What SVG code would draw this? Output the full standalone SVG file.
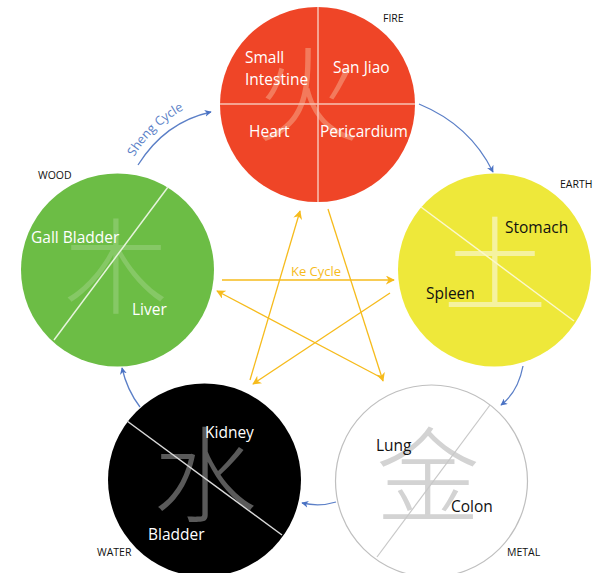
<svg xmlns="http://www.w3.org/2000/svg" width="605" height="573" viewBox="0 0 605 573">
<defs>
<marker id="ab" viewBox="0 0 10 10" refX="9" refY="5" markerWidth="7" markerHeight="7" orient="auto" markerUnits="userSpaceOnUse"><path d="M0,0 L10,5 L0,10 L3,5 Z" fill="#4A72C4"/></marker>
<marker id="ak" viewBox="0 0 10 10" refX="9" refY="5" markerWidth="9" markerHeight="9" orient="auto" markerUnits="userSpaceOnUse"><path d="M0,0 L10,5 L0,10 L3,5 Z" fill="#F6BB1C"/></marker>
<path id="shengPath" d="M134,157 Q156,120 200,102"/>
</defs>
<style>
text{font-family:"Open Sans","Liberation Sans",sans-serif}
.lab{font-size:15.5px}
.w{fill:#ffffff}
.b{fill:#111111}
.el{font-size:10.5px;fill:#111}
.ch{font-family:"Noto Sans CJK SC","Noto Sans CJK JP",sans-serif;font-size:104px;font-weight:300;text-anchor:middle}
.sh{fill:none;stroke:#5B7FC7;stroke-width:1.3}
.ke{fill:none;stroke:#F6BB1C;stroke-width:1.3}
</style>
<rect width="605" height="573" fill="#ffffff"/>
<g id="fire">
<circle cx="317.5" cy="104.5" r="97.5" fill="#EF4527"/>
<text class="ch" x="308" y="134" fill="#F37A5C">火</text>
<line x1="220" y1="104" x2="415" y2="104" stroke="#F7C3B5" stroke-width="1.5"/>
<line x1="318" y1="7" x2="318" y2="202" stroke="#F7C3B5" stroke-width="1.5"/>
<text class="lab w" x="245" y="63">Small</text>
<text class="lab w" x="245" y="85">Intestine</text>
<text class="lab w" x="333" y="73">San Jiao</text>
<text class="lab w" x="249" y="137">Heart</text>
<text class="lab w" x="320" y="137">Pericardium</text>
<text class="el" x="383" y="22">FIRE</text>
</g>
<g id="wood">
<circle cx="117.5" cy="270" r="96.5" fill="#6CBD45"/>
<text class="ch" x="116" y="306" fill="#86C866">木</text>
<line x1="168" y1="187" x2="54" y2="340" stroke="#E6F4DC" stroke-width="1.5"/>
<text class="lab w" x="31" y="243">Gall Bladder</text>
<text class="lab w" x="132" y="315">Liver</text>
<text class="el" x="38" y="179">WOOD</text>
</g>
<g id="earth">
<circle cx="494.5" cy="270" r="96.5" fill="#EEE83A"/>
<text class="ch" x="495" y="304" fill="#F5F2A0">土</text>
<line x1="421" y1="207" x2="574" y2="321" stroke="#FBF8CC" stroke-width="1.5"/>
<text class="lab b" x="505" y="233">Stomach</text>
<text class="lab b" x="426" y="299">Spleen</text>
<text class="el" x="560" y="188">EARTH</text>
</g>
<g id="metal">
<circle cx="431.5" cy="481" r="96" fill="#ffffff" stroke="#BFBFBF" stroke-width="1.2"/>
<text class="ch" x="428" y="515" fill="#D3D3D3">金</text>
<line x1="490" y1="405" x2="377" y2="557" stroke="#C8C8C8" stroke-width="1.2"/>
<text class="lab b" x="376" y="451">Lung</text>
<text class="lab b" x="451" y="512">Colon</text>
<text class="el" x="507" y="556">METAL</text>
</g>
<g id="water">
<circle cx="204.5" cy="480" r="96.5" fill="#000000"/>
<text class="ch" x="205" y="514" fill="#5A5A5A">水</text>
<line x1="127" y1="421" x2="282" y2="535" stroke="#D9D9D9" stroke-width="1.5"/>
<text class="lab w" x="205" y="438">Kidney</text>
<text class="lab w" x="148" y="540">Bladder</text>
<text class="el" x="97" y="556">WATER</text>
</g>
<g id="connectors">
<path class="sh" d="M138,165 Q165,122 211,112" marker-end="url(#ab)"/>
<path class="sh" d="M419,104 Q470,125 493,172" marker-end="url(#ab)"/>
<path class="sh" d="M523,366 Q518,392 501,405" marker-end="url(#ab)"/>
<path class="sh" d="M336,502 Q320,507 302,503" marker-end="url(#ab)"/>
<path class="sh" d="M140,407 Q127,390 122,368" marker-end="url(#ab)"/>
<text font-size="12.5" fill="#5B7FC7"><textPath href="#shengPath">Sheng Cycle</textPath></text>
<line class="ke" x1="222" y1="280" x2="394" y2="280" marker-end="url(#ak)"/>
<line class="ke" x1="390" y1="293" x2="253" y2="384" marker-end="url(#ak)"/>
<line class="ke" x1="250" y1="380" x2="300" y2="211" marker-end="url(#ak)"/>
<line class="ke" x1="328" y1="209" x2="383" y2="381" marker-end="url(#ak)"/>
<line class="ke" x1="380" y1="377" x2="217" y2="291" marker-end="url(#ak)"/>
<text x="316" y="276" font-size="13" fill="#F6BB1C" text-anchor="middle">Ke Cycle</text>
</g>
</svg>
